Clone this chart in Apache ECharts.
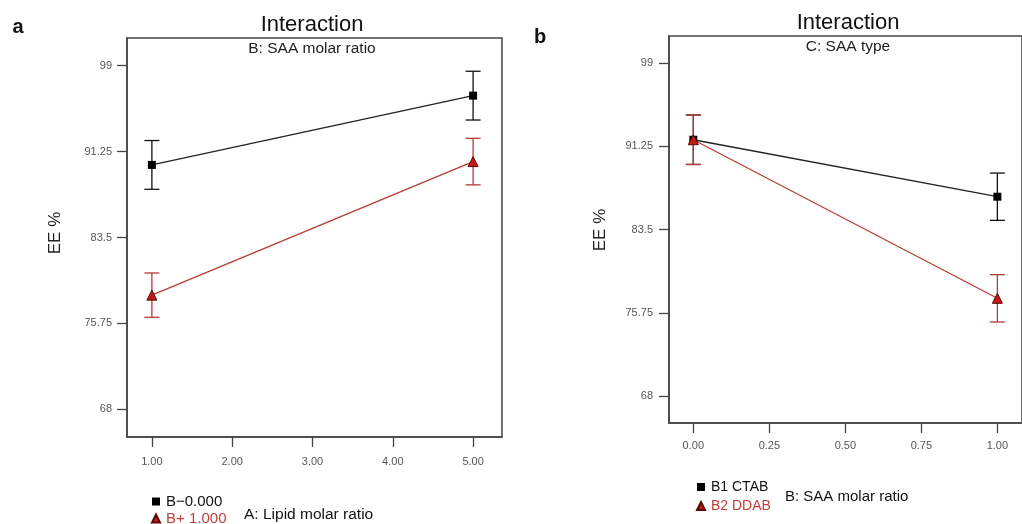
<!DOCTYPE html>
<html>
<head>
<meta charset="utf-8">
<script src="https://cdn.jsdelivr.net/npm/echarts@6/dist/echarts.min.js"></script>
<style>
  html, body { margin: 0; padding: 0; background: #fff; }
  #chart { width: 1022px; height: 524px; }
</style>
</head>
<body>
<div id="chart"></div>
<script>
// panel a: EE % vs lipid molar ratio, split by SAA molar ratio
const lipidRatio = [1, 5];
const bMinusEE = [90.05, 96.3];
const bMinusErr = [2.2, 2.2];
const bPlusEE = [78.3, 90.35];
const bPlusErr = [2.0, 2.1];

// panel b: EE % vs SAA molar ratio, split by SAA type
const saaRatio = [0, 1];
const ctabEE = [91.85, 86.55];
const ctabErr = [2.3, 2.2];
const ddabEE = [91.85, 77.1];
const ddabErr = [2.3, 2.2];

const yTicks = [68, 75.75, 83.5, 91.25, 99];
const xTicksA = [1, 2, 3, 4, 5];
const xTicksB = [0, 0.25, 0.5, 0.75, 1];

const FONT = '"Liberation Sans", Arial, sans-serif';
const RED = '#b73a34';
const AXIS = '#444';

const pairs = (xs, ys) => xs.map((x, i) => [x, ys[i]]);
const triples = (xs, ys, es) => xs.map((x, i) => [x, ys[i], es[i]]);

function errorBar(idx, xs, ys, es, color) {
  return {
    type: 'custom',
    xAxisIndex: idx,
    yAxisIndex: idx,
    z: 1,
    silent: true,
    data: triples(xs, ys, es),
    encode: { x: 0, y: 1 },
    renderItem: (params, api) => {
      const x = api.value(0), y = api.value(1), e = api.value(2);
      const top = api.coord([x, y + e]);
      const bot = api.coord([x, y - e]);
      const w = 7.5;
      const style = { stroke: color, lineWidth: 1.3 };
      return {
        type: 'group',
        children: [
          { type: 'line', shape: { x1: top[0], y1: top[1], x2: bot[0], y2: bot[1] }, style },
          { type: 'line', shape: { x1: top[0] - w, y1: top[1], x2: top[0] + w, y2: top[1] }, style },
          { type: 'line', shape: { x1: bot[0] - w, y1: bot[1], x2: bot[0] + w, y2: bot[1] }, style }
        ]
      };
    }
  };
}

function yAxis(idx, margin) {
  return {
    type: 'value', gridIndex: idx, min: 65.5, max: 101.5,
    splitLine: { show: false },
    axisLine: { show: true, onZero: false, lineStyle: { color: AXIS, width: 1.5 } },
    axisTick: { show: true, length: 10, customValues: yTicks, lineStyle: { color: AXIS, width: 1.3 } },
    axisLabel: { customValues: yTicks, margin, fontSize: 11, color: '#555', fontFamily: FONT }
  };
}

function xAxis(idx, min, max, ticks, margin) {
  return {
    type: 'value', gridIndex: idx, min, max,
    splitLine: { show: false },
    axisLine: { show: true, onZero: false, lineStyle: { color: AXIS, width: 1.5 } },
    axisTick: { show: true, length: 10, customValues: ticks, lineStyle: { color: AXIS, width: 1.3 } },
    axisLabel: {
      customValues: ticks, margin, fontSize: 11, color: '#555', fontFamily: FONT,
      formatter: v => v.toFixed(2)
    }
  };
}

function text(x, y, str, size, opts) {
  return {
    type: 'text', x, y, silent: true,
    rotation: (opts && opts.rotation) || 0,
    style: {
      text: str, fontSize: size, fontFamily: FONT,
      fontWeight: (opts && opts.weight) || 'normal',
      fill: (opts && opts.color) || '#111',
      align: (opts && opts.align) || 'center',
      verticalAlign: 'middle'
    }
  };
}

const chart = echarts.init(document.getElementById('chart'));

chart.setOption({
  animation: false,
  backgroundColor: '#fff',
  textStyle: { fontFamily: FONT },
  grid: [
    { left: 127, top: 38, width: 375, height: 399, show: true, borderColor: AXIS, borderWidth: 1.5 },
    { left: 669, top: 36, width: 360, height: 387, show: true, borderColor: AXIS, borderWidth: 1.5 }
  ],
  xAxis: [
    xAxis(0, 0.69, 5.36, xTicksA, 19),
    xAxis(1, -0.08, 1.081, xTicksB, 17)
  ],
  yAxis: [yAxis(0, 15), yAxis(1, 16)],
  legend: [
    {
      orient: 'vertical', left: 146, top: 489, height: 60, itemWidth: 8, itemHeight: 8, itemGap: 2,
      selectedMode: false,
      textStyle: { fontSize: 15, color: '#111', padding: [0, 0, 0, 1] },
      data: [
        { name: 'B\u22120.000', icon: 'rect' },
        { name: 'B+ 1.000', icon: 'triangle', textStyle: { color: '#c0413b' } }
      ]
    },
    {
      orient: 'vertical', left: 691, top: 475, height: 60, itemWidth: 8, itemHeight: 8, itemGap: 5,
      selectedMode: false,
      textStyle: { fontSize: 14, color: '#111', padding: [0, 0, 0, 1] },
      data: [
        { name: 'B1 CTAB', icon: 'rect' },
        { name: 'B2 DDAB', icon: 'triangle', textStyle: { color: '#c0413b' } }
      ]
    }
  ],
  graphic: [
    text(18, 27, 'a', 20, { weight: 'bold' }),
    text(540, 37, 'b', 20, { weight: 'bold' }),
    text(312, 25, 'Interaction', 22),
    text(312, 49, 'B: SAA molar ratio', 15.5, { color: '#222' }),
    text(848, 23, 'Interaction', 22),
    text(848, 47, 'C: SAA type', 15.5, { color: '#222' }),
    text(55, 233, 'EE %', 17, { rotation: Math.PI / 2, color: '#222' }),
    text(600, 230, 'EE %', 17, { rotation: Math.PI / 2, color: '#222' }),
    text(244, 515, 'A: Lipid molar ratio', 15.5, { align: 'left' }),
    text(785, 497, 'B: SAA molar ratio', 15, { align: 'left' })
  ],
  series: [
    errorBar(0, lipidRatio, bMinusEE, bMinusErr, '#111'),
    errorBar(0, lipidRatio, bPlusEE, bPlusErr, RED),
    {
      name: 'B\u22120.000', type: 'line', xAxisIndex: 0, yAxisIndex: 0, z: 3,
      data: pairs(lipidRatio, bMinusEE),
      symbol: 'rect', symbolSize: 8,
      lineStyle: { color: '#222', width: 1.3 },
      itemStyle: { color: '#000' }
    },
    {
      name: 'B+ 1.000', type: 'line', xAxisIndex: 0, yAxisIndex: 0, z: 4,
      data: pairs(lipidRatio, bPlusEE),
      symbol: 'triangle', symbolSize: 10,
      lineStyle: { color: RED, width: 1.2 },
      itemStyle: { color: '#c41a14', borderColor: '#5a0a08', borderWidth: 1 }
    },
    errorBar(1, saaRatio, ctabEE, ctabErr, '#111'),
    errorBar(1, saaRatio, ddabEE, ddabErr, RED),
    {
      name: 'B1 CTAB', type: 'line', xAxisIndex: 1, yAxisIndex: 1, z: 3,
      data: pairs(saaRatio, ctabEE),
      symbol: 'rect', symbolSize: 8,
      lineStyle: { color: '#222', width: 1.3 },
      itemStyle: { color: '#000' }
    },
    {
      name: 'B2 DDAB', type: 'line', xAxisIndex: 1, yAxisIndex: 1, z: 4,
      data: pairs(saaRatio, ddabEE),
      symbol: 'triangle', symbolSize: 10,
      lineStyle: { color: RED, width: 1.2 },
      itemStyle: { color: '#c41a14', borderColor: '#5a0a08', borderWidth: 1 }
    }
  ]
});
</script>
</body>
</html>
